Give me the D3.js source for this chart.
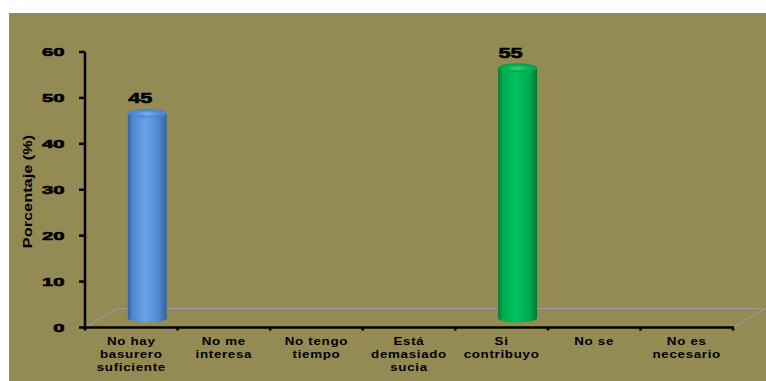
<!DOCTYPE html>
<html><head><meta charset="utf-8">
<script src="https://cdn.jsdelivr.net/npm/d3@7"></script>
<style>body{margin:0;background:#fff}svg{display:block}text{font-family:"Liberation Sans",Arial,sans-serif;font-weight:bold;fill:#000}.heavy{stroke:#000;stroke-width:0.6px}</style>
</head><body><svg id="chart" width="766" height="381"></svg>
<script>
// Motivos para no depositar la basura (porcentaje de respuestas)
const categories = ["No hay basurero suficiente","No me interesa","No tengo tiempo","Está demasiado sucia","Si contribuyo","No se","No es necesario"];
const categoryLines = [["No hay","basurero","suficiente"],["No me","interesa"],["No tengo","tiempo"],["Está","demasiado","sucia"],["Si","contribuyo"],["No se"],["No es","necesario"]];
const values = [45, 0, 0, 0, 55, 0, 0];
const barColors = ["blue","blue","blue","blue","green","green","green"];
const yTicks = [0, 10, 20, 30, 40, 50, 60];
const yTitle = "Porcentaje (%)";

const svg = d3.select("#chart");
const W = 766, H = 381;
const plot = {left: 85, right: 733, top: 52, bottom: 327.5};
const depth = {dx: 32, dy: -19};

svg.append("rect").attr("x", 9).attr("y", 13).attr("width", W - 9).attr("height", H - 13).attr("fill", "#948a54");

const x = d3.scaleBand().domain(categories).range([plot.left, plot.right]).paddingInner(0.58).paddingOuter(0.29);
const y = d3.scaleLinear().domain([0, 60]).range([plot.bottom, plot.top]);
// bars stand half-way into the floor
const yMid = d3.scaleLinear().domain([0, 60]).range([plot.bottom + depth.dy / 2, plot.bottom + depth.dy / 2 - 60 * 4.55]);

// gradients for the cylinders
const defs = svg.append("defs");
const palettes = {
  blue: {dark: "#35609a", mid: "#4f86cf", light: "#6aa3e6", top: "#7fb2ee", topDark: "#4c82c8"},
  green: {dark: "#007a34", mid: "#00aa50", light: "#00c35e", top: "#3fd07f", topDark: "#00a04a"}
};
Object.entries(palettes).forEach(([k, p]) => {
  const g = defs.append("linearGradient").attr("id", "body-" + k).attr("x1", 0).attr("x2", 1).attr("y1", 0).attr("y2", 0);
  [[0, p.dark], [0.12, p.mid], [0.45, p.light], [0.8, p.mid], [1, p.dark]].forEach(([o, c]) => g.append("stop").attr("offset", o).attr("stop-color", c));
  const r = defs.append("radialGradient").attr("id", "top-" + k).attr("cx", 0.5).attr("cy", 0.55).attr("r", 0.6);
  [[0, p.top], [0.6, p.mid], [1, p.topDark]].forEach(([o, c]) => r.append("stop").attr("offset", o).attr("stop-color", c));
});

// floor of the 3D plot
const floorColor = "#9a9a9a";
const floor = svg.append("g").attr("stroke", floorColor).attr("stroke-width", 1.2).attr("fill", "none");
floor.append("path").attr("d", `M${plot.left},${plot.bottom} l${depth.dx},${depth.dy} H${plot.right + depth.dx} L${plot.right},${plot.bottom}`);

// cylinders
const bw = x.bandwidth();
const ry = 4.5;
const bars = svg.append("g");
categories.forEach((c, i) => {
  const v = values[i];
  if (!v) return;
  const col = barColors[i];
  const cx = x(c) + bw / 2 + depth.dx / 2;
  const y0 = yMid(0), y1 = yMid(v);
  const g = bars.append("g");
  g.append("ellipse").attr("cx", cx).attr("cy", y0).attr("rx", bw / 2).attr("ry", ry).attr("fill", `url(#body-${col})`);
  g.append("rect").attr("x", cx - bw / 2).attr("y", y1).attr("width", bw).attr("height", y0 - y1).attr("fill", `url(#body-${col})`);
  g.append("ellipse").attr("cx", cx).attr("cy", y1).attr("rx", bw / 2).attr("ry", ry).attr("fill", `url(#top-${col})`);
  // value label
  g.append("text").attr("class", "heavy").attr("text-anchor", "middle").attr("font-size", 15)
    .attr("transform", `translate(${cx - 7},${y1 - 10}) scale(1.45,1)`).text(v);
});

// axes
const axisG = svg.append("g").attr("stroke", "#000").attr("stroke-width", 2.5);
axisG.append("line").attr("x1", plot.left).attr("x2", plot.left).attr("y1", y(60)).attr("y2", plot.bottom + 1);
axisG.append("line").attr("x1", plot.left - 1).attr("x2", plot.right + 1).attr("y1", plot.bottom).attr("y2", plot.bottom);
yTicks.forEach(t => {
  axisG.append("line").attr("x1", plot.left - 6).attr("x2", plot.left).attr("y1", y(t)).attr("y2", y(t));
  svg.append("text").attr("class", "heavy").attr("text-anchor", "end").attr("font-size", 11.6)
    .attr("transform", `translate(64.5,${y(t) + 4.2}) scale(1.75,1)`).text(t);
});
for (let i = 0; i <= categories.length; i++) {
  const bx = plot.left + i * x.step();
  axisG.append("line").attr("x1", bx).attr("x2", bx).attr("y1", plot.bottom).attr("y2", plot.bottom + 3);
}

// category labels
categories.forEach((c, i) => {
  const cx = x(c) + bw / 2;
  categoryLines[i].forEach((line, j) => {
    svg.append("text").attr("text-anchor", "middle").attr("font-size", 11.6).attr("letter-spacing", 0.6)
      .attr("transform", `translate(${cx},${345 + j * 12.8}) scale(1.15,1)`).text(line);
  });
});

// y axis title
svg.append("text").attr("text-anchor", "middle").attr("font-size", 12)
  .attr("transform", `translate(31.5,191.5) rotate(-90) scale(1.36,1)`).text(yTitle);
</script></body></html>
